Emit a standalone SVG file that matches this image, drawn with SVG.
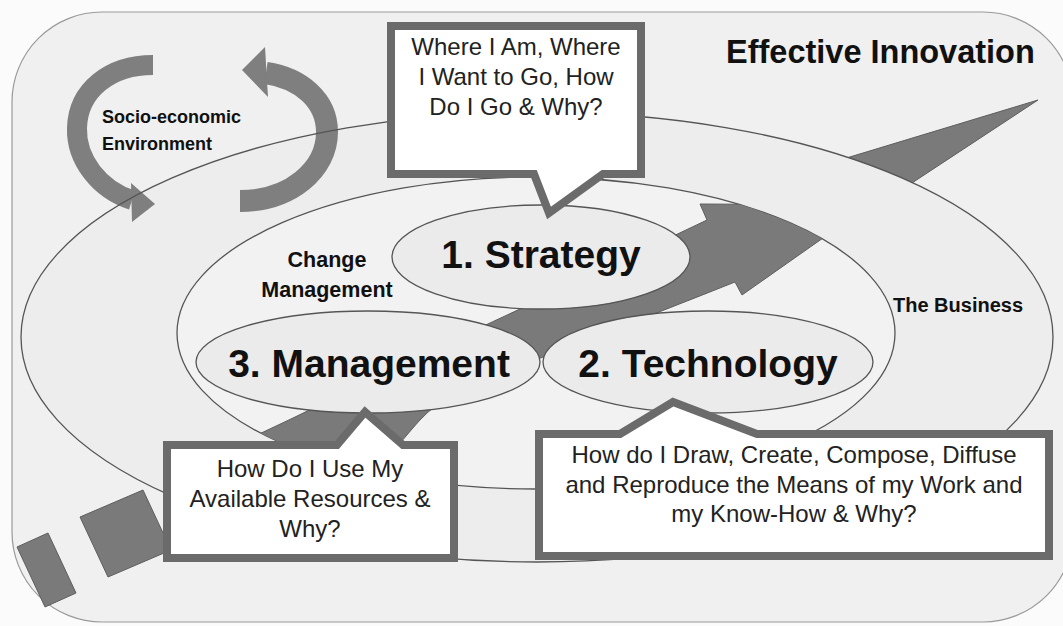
<svg xmlns="http://www.w3.org/2000/svg" width="1063" height="626" viewBox="0 0 1063 626">
<defs>
<style>
.lbl{font-family:"Liberation Sans",Arial,sans-serif;font-weight:bold;fill:#111}
.big{font-size:39px;text-anchor:middle}
.q{font-family:"Liberation Sans",Arial,sans-serif;font-size:24px;fill:#222;text-anchor:middle}
.ell{stroke:#555;stroke-width:1.3}
.dark{fill:#7a7a7a;stroke:#5e5e5e;stroke-width:1}
.box{fill:#fff;stroke:#6b6b6b;stroke-width:8;stroke-linejoin:miter}
.rib{fill:none;stroke:#7f7f7f}
.head{fill:#7f7f7f}
</style>
<clipPath id="innerClip"><ellipse cx="536" cy="333" rx="359" ry="156"/></clipPath>
</defs>
<rect width="1063" height="626" fill="#fbfbfb"/>
<rect id="frame" x="12" y="12" width="1061" height="610" rx="90" fill="#f0f0f0" stroke="#9a9a9a" stroke-width="1.2"/>

<g id="outer-arrow">
<polygon class="dark" points="17,547 48,533 76,593 45,607"/>
<polygon class="dark" points="80,517 143,490 171,550 108,577"/>
<polygon class="dark" points="820,166 1038,100 880,204 840,200"/>
</g>

<g id="the-business">
<ellipse cx="537" cy="337" rx="516" ry="225" fill="#ededed"/>
</g>

<g id="socio-economic">
<path class="rib" stroke-width="20" d="M153,65 C110,65 78,90 77,128 C76,160 100,190 132,200"/>
<polygon class="head" points="131,183 155,204 132,222"/>
<path class="rib" stroke-width="22" d="M240,201 C290,201 327,170 327,132 C327,100 300,78 266,73"/>
<polygon class="head" points="265,47 242,70 268,97"/>
<text class="lbl" font-size="18" x="102" y="123">Socio-economic</text>
<text class="lbl" font-size="18" x="102" y="150">Environment</text>
</g>

<g id="the-business-outline">
<ellipse class="ell" cx="537" cy="337" rx="516" ry="225" fill="none"/>
<text class="lbl" font-size="20" x="893" y="312">The Business</text>
</g>

<g id="change-management">
<ellipse class="ell" cx="536" cy="333" rx="359" ry="156" fill="#f2f2f2"/>
<text class="lbl" font-size="21.5" x="327" y="267" text-anchor="middle">Change</text>
<text class="lbl" font-size="21.5" x="327" y="297" text-anchor="middle">Management</text>
</g>

<g id="connectors">
<path class="dark" clip-path="url(#innerClip)" d="M870,205 L742,295 L735,282 C650,316 560,350 500,374 C470,386 440,398 420,420 C400,442 370,480 340,520 L150,520 L200,462 L293,418 C380,376 440,346 505,316 C580,281 650,247 707,220 L700,204 Z"/>
</g>

<g id="strategy">
<ellipse class="ell" cx="541" cy="257" rx="149" ry="52" fill="#ebebeb"/>
<text class="lbl big" x="541" y="268">1. Strategy</text>
</g>
<g id="management">
<ellipse class="ell" cx="368" cy="362" rx="172" ry="51" fill="#ebebeb"/>
<text class="lbl big" x="369" y="377">3. Management</text>
</g>
<g id="technology">
<ellipse class="ell" cx="708" cy="362" rx="165" ry="51" fill="#ebebeb"/>
<text class="lbl big" x="708" y="377">2. Technology</text>
</g>

<g id="callout-strategy">
<path class="box" d="M391,26 H641 V174 H603 L549,213 L534,174 H391 Z"/>
<text class="q" x="516" y="55">Where I Am, Where</text>
<text class="q" x="516" y="85">I Want to Go, How</text>
<text class="q" x="516" y="115">Do I Go &amp; Why?</text>
</g>

<g id="callout-management">
<path class="box" d="M167,445 H337 L365,412 L403,445 H454 V558 H167 Z"/>
<text class="q" font-size="23" x="310" y="477">How Do I Use My</text>
<text class="q" font-size="23" x="310" y="507">Available Resources &amp;</text>
<text class="q" font-size="23" x="310" y="537">Why?</text>
</g>

<g id="callout-technology">
<path class="box" d="M539,434 H620 L673,402 L757,434 H1049 V556 H539 Z"/>
<text class="q" x="794" y="463">How do I Draw, Create, Compose, Diffuse</text>
<text class="q" x="794" y="493">and Reproduce the Means of my Work and</text>
<text class="q" x="794" y="522">my Know-How &amp; Why?</text>
</g>

<g id="title">
<text class="lbl" font-size="32.5" x="726" y="63">Effective Innovation</text>
</g>
</svg>
